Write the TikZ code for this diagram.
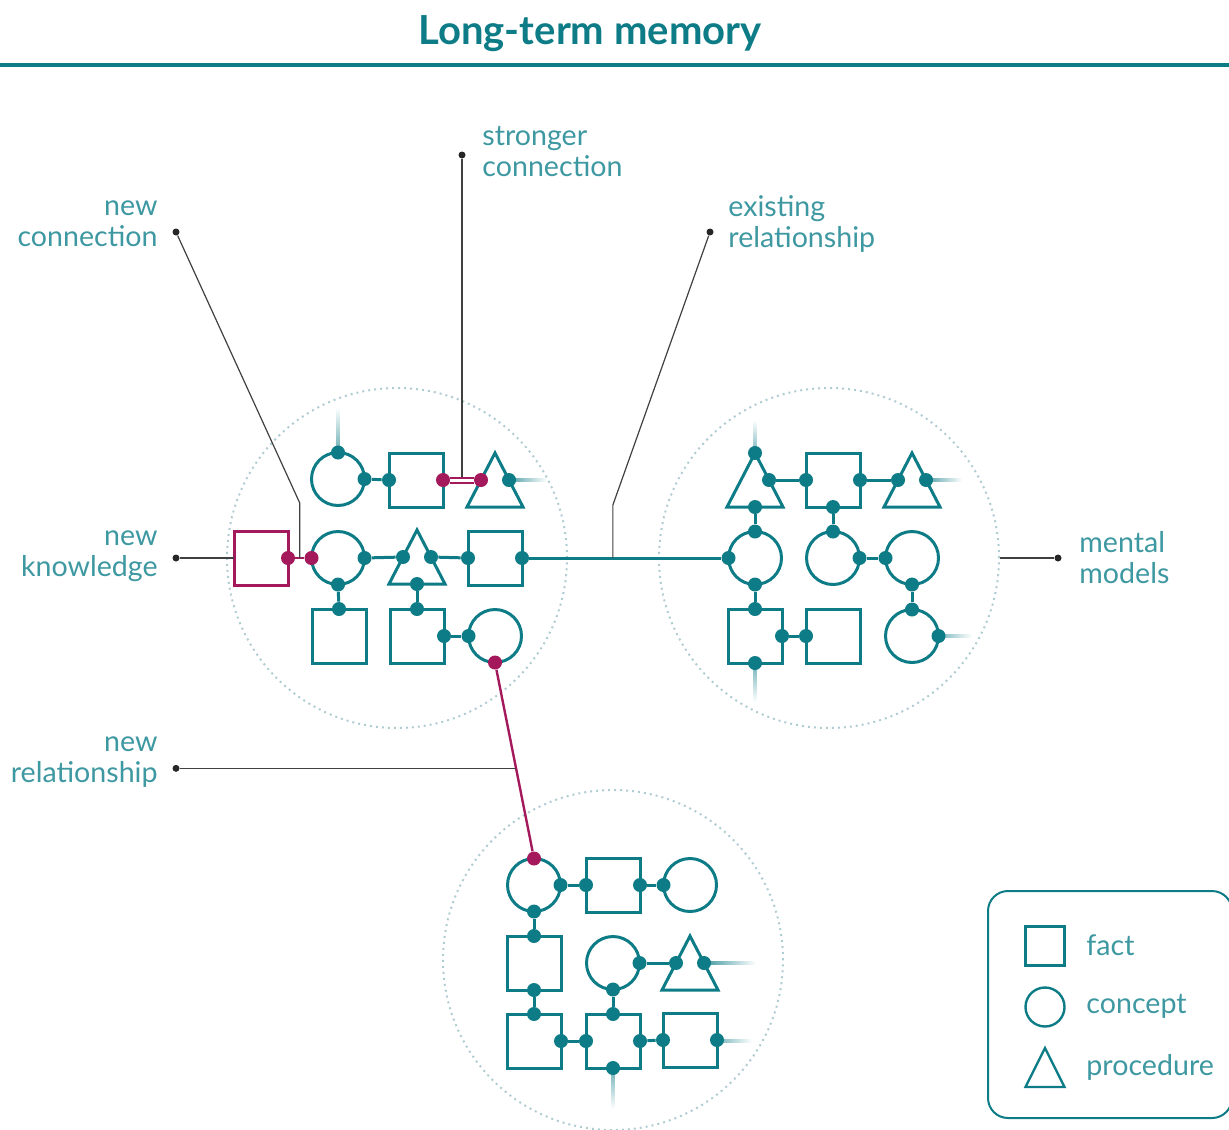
\documentclass[tikz,border=0pt]{standalone}
\usepackage{fontspec}
\setmainfont{Lato}
\usetikzlibrary{shapes.geometric,calc}
\definecolor{memteal}{HTML}{0D7C86}
\definecolor{memmag}{HTML}{A3195B}
\definecolor{memtext}{HTML}{3E98A1}
\definecolor{memgrid}{HTML}{B0CCD3}
\definecolor{memlead}{HTML}{404040}
\begin{document}
\begin{tikzpicture}[x=0.5pt,y=-0.5pt,
  fact/.style={rectangle,draw=memteal,line width=1.5pt,minimum size=27pt,inner sep=0pt,outer sep=0pt},
  concept/.style={circle,draw=memteal,line width=1.5pt,minimum size=26.5pt,inner sep=0pt,outer sep=0pt},
  proc/.style={isosceles triangle,isosceles triangle stretches,shape border rotate=90,draw=memteal,line width=1.5pt,minimum width=28pt,minimum height=27pt,inner sep=0pt,outer sep=0pt},
  legendshape/.style={line width=1.2pt,minimum size=19.5pt},
  joint/.style={circle,fill=memteal,minimum size=7pt,inner sep=0pt},
  mjoint/.style={joint,fill=memmag},
  link/.style={draw=memteal,line width=1.5pt},
  mlink/.style={draw=memmag,line width=1.2pt},
  hstub/.style={left color=memteal,right color=white},
  vstub/.style={bottom color=memteal,top color=white},
  cluster/.style={circle,draw=memgrid,dotted,line width=1pt,minimum size=170pt,inner sep=0pt},
  leader/.style={draw=memlead,line width=0.6pt},
  ldot/.style={circle,fill=black!85,minimum size=3.5pt,inner sep=0pt},
  note/.style={text=memtext,font=\fontsize{14.3}{15.5}\selectfont,inner sep=0pt}]
\useasboundingbox (0,0) rectangle (1229,1129);

% title
\node[text=memteal,font=\fontsize{20}{24}\selectfont\bfseries] (title) at (590,34) {Long-term memory};
\draw[memteal,line width=2pt] (0,65) -- (1229,65);

% clusters
\node[cluster] (aclu) at (397,558) {};
\node[cluster] (bclu) at (829,558) {};
\node[cluster] (cclu) at (613,960) {};

% loose ends
\shade[vstub] ([xshift=-0.75pt]338,479) rectangle ++(3,-72);
\shade[hstub] ([yshift=0.75pt]495,480) rectangle ++(52,3);
\shade[vstub] ([xshift=-0.75pt]755,480) rectangle ++(3,-60);
\shade[hstub] ([yshift=0.75pt]912,480) rectangle ++(50,3);
\shade[bottom color=white,top color=memteal] ([xshift=-0.75pt]755,636) rectangle ++(3,66);
\shade[hstub] ([yshift=0.75pt]912,636) rectangle ++(60,3);
\shade[hstub] ([yshift=0.75pt]690,963) rectangle ++(66,3);
\shade[bottom color=white,top color=memteal] ([xshift=-0.75pt]613,1041) rectangle ++(3,68);
\shade[hstub] ([yshift=0.75pt]690,1041) rectangle ++(62,3);

% left cluster
\node[concept,fill=white] (ac1) at (338,479) {};
\node[fact] (af1) at (416,480) {};
\node[proc,fill=white,anchor=lower side] (ap1) at (495,507) {};
\node[fact,draw=memmag] (nk) at (261,558) {};
\node[concept] (ac2) at (338,558) {};
\node[proc,anchor=lower side] (ap2) at (417,584) {};
\node[fact] (af2) at (495,558) {};
\node[fact] (af3) at (339,636) {};
\node[fact] (af4) at (417,636) {};
\node[concept] (ac3) at (495,636) {};

\node[joint] (ac1n) at (ac1.north) {};
\node[joint] (ac1e) at (ac1.east) {};
\node[joint] (af1w) at (af1.west) {};
\node[mjoint] (af1e) at (af1.east) {};
\node[mjoint] (ap1l) at (ap1.left side) {};
\node[joint] (ap1r) at (ap1.right side) {};
\node[mjoint] (nke) at (nk.east) {};
\node[mjoint] (ac2w) at (ac2.west) {};
\node[joint] (ac2e) at (ac2.east) {};
\node[joint] (ac2s) at (ac2.south) {};
\node[joint] (ap2l) at (ap2.left side) {};
\node[joint] (ap2r) at (ap2.right side) {};
\node[joint] (ap2b) at (ap2.lower side) {};
\node[joint] (af2w) at (af2.west) {};
\node[joint] (af2e) at (af2.east) {};
\node[joint] (af3n) at (af3.north) {};
\node[joint] (af4n) at (af4.north) {};
\node[joint] (af4e) at (af4.east) {};
\node[joint] (ac3w) at (ac3.west) {};
\node[mjoint] (ac3s) at (ac3.south) {};

% right cluster
\node[proc,fill=white,anchor=lower side] (bp1) at (755,507) {};
\node[fact] (bf1) at (833,480) {};
\node[proc,fill=white,anchor=lower side] (bp2) at (912,507) {};
\node[concept] (bc1) at (755,558) {};
\node[concept] (bc2) at (833,558) {};
\node[concept] (bc3) at (912,558) {};
\node[fact,fill=white] (bf2) at (755,636) {};
\node[fact] (bf3) at (833,636) {};
\node[concept,fill=white] (bc4) at (912,636) {};

\node[joint] (bp1a) at (bp1.apex) {};
\node[joint] (bp1r) at (bp1.right side) {};
\node[joint] (bp1b) at (bp1.lower side) {};
\node[joint] (bf1w) at (bf1.west) {};
\node[joint] (bf1e) at (bf1.east) {};
\node[joint] (bf1s) at (bf1.south) {};
\node[joint] (bp2l) at (bp2.left side) {};
\node[joint] (bp2r) at (bp2.right side) {};
\node[joint] (bc1n) at (bc1.north) {};
\node[joint] (bc1w) at (bc1.west) {};
\node[joint] (bc1s) at (bc1.south) {};
\node[joint] (bc2n) at (bc2.north) {};
\node[joint] (bc2e) at (bc2.east) {};
\node[joint] (bc3w) at (bc3.west) {};
\node[joint] (bc3s) at (bc3.south) {};
\node[joint] (bf2n) at (bf2.north) {};
\node[joint] (bf2e) at (bf2.east) {};
\node[joint] (bf2s) at (bf2.south) {};
\node[joint] (bf3w) at (bf3.west) {};
\node[joint] (bc4n) at (bc4.north) {};
\node[joint] (bc4e) at (bc4.east) {};

% bottom cluster
\node[concept] (cc1) at (534,885) {};
\node[fact] (cf1) at (613,885) {};
\node[concept] (cc2) at (690,885) {};
\node[fact] (cf2) at (534,963) {};
\node[concept] (cc3) at (613,963) {};
\node[proc,fill=white,anchor=lower side] (cp1) at (690,990) {};
\node[fact] (cf3) at (534,1041) {};
\node[fact,fill=white] (cf4) at (613,1041) {};
\node[fact,fill=white] (cf5) at (690,1040) {};

\node[mjoint] (cc1n) at (cc1.north) {};
\node[joint] (cc1e) at (cc1.east) {};
\node[joint] (cc1s) at (cc1.south) {};
\node[joint] (cf1w) at (cf1.west) {};
\node[joint] (cf1e) at (cf1.east) {};
\node[joint] (cc2w) at (cc2.west) {};
\node[joint] (cf2n) at (cf2.north) {};
\node[joint] (cf2s) at (cf2.south) {};
\node[joint] (cc3e) at (cc3.east) {};
\node[joint] (cc3s) at (cc3.south) {};
\node[joint] (cp1l) at (cp1.left side) {};
\node[joint] (cp1r) at (cp1.right side) {};
\node[joint] (cf3n) at (cf3.north) {};
\node[joint] (cf3e) at (cf3.east) {};
\node[joint] (cf4n) at (cf4.north) {};
\node[joint] (cf4w) at (cf4.west) {};
\node[joint] (cf4e) at (cf4.east) {};
\node[joint] (cf4s) at (cf4.south) {};
\node[joint] (cf5w) at (cf5.west) {};
\node[joint] (cf5e) at (cf5.east) {};

% links
\draw[link] (ac1e) -- (af1w);
\draw[draw=memmag,line width=1pt,double=white,double distance=1.5pt] (af1e) -- (ap1l);
\draw[mlink] (nke) -- (ac2w);
\draw[link] (ac2e) -- (ap2l);
\draw[link] (ap2r) -- (af2w);
\draw[link] (af2e) -- (bc1w);
\draw[link] (ac2s) -- (af3n);
\draw[link] (ap2b) -- (af4n);
\draw[link] (af4e) -- (ac3w);
\draw[mlink] (ac3s) -- (cc1n);
\draw[link] (bp1r) -- (bf1w);
\draw[link] (bf1e) -- (bp2l);
\draw[link] (bp1b) -- (bc1n);
\draw[link] (bf1s) -- (bc2n);
\draw[link] (bc2e) -- (bc3w);
\draw[link] (bc1s) -- (bf2n);
\draw[link] (bc3s) -- (bc4n);
\draw[link] (bf2e) -- (bf3w);
\draw[link] (cc1e) -- (cf1w);
\draw[link] (cf1e) -- (cc2w);
\draw[link] (cc1s) -- (cf2n);
\draw[link] (cf2s) -- (cf3n);
\draw[link] (cc3e) -- (cp1l);
\draw[link] (cc3s) -- (cf4n);
\draw[link] (cf3e) -- (cf4w);
\draw[link] (cf4e) -- (cf5w);

% callouts
\coordinate (nc) at ($(nke)!0.5!(ac2w)$);
\coordinate (sc) at ($(af1e)!0.5!(ap1l)$);
\coordinate (er) at ($(af2e)!0.44!(bc1w)$);
\coordinate (nr) at ($(ac3s)!0.54!(cc1n)$);
\node[ldot] (ncdot) at (176,232) {};
\node[ldot] (scdot) at (sc |- 0,155) {};
\node[ldot] (erdot) at (710,232) {};
\node[ldot] (nkdot) at (176,558) {};
\node[ldot] (nrdot) at (nr -| 176,0) {};
\node[ldot] (mmdot) at (1058,558) {};
\draw[leader] (ncdot) -- ([yshift=27.5pt]nc) -- (nc);
\draw[leader] (scdot) -- ([yshift=1.6pt]sc);
\draw[leader] (erdot) -- ([yshift=26.5pt]er) -- (er);
\draw[leader] (nkdot) -- (nk);
\draw[leader] (nrdot) -- (nr);
\draw[leader] (bclu) -- (mmdot);

\node[note,align=right,anchor=east] (nctext) at (158,224) {new\\connection};
\node[note,align=left,anchor=west] (sctext) at (482,152) {stronger\\connection};
\node[note,align=left,anchor=west] (ertext) at (728,224) {existing\\relationship};
\node[note,align=right,anchor=east] (nktext) at (158,556) {new\\knowledge};
\node[note,align=right,anchor=east] (nrtext) at (158,762) {new\\relationship};
\node[note,align=left,anchor=west] (mmtext) at (1079,558) {mental\\models};

% legend
\draw[memteal,line width=1pt,rounded corners=10pt] (988,891) rectangle (1232,1118);
\node[fact,legendshape] (kf) at (1045,946) {};
\node[concept,legendshape] (kc) at (1045,1007) {};
\node[proc,legendshape,anchor=lower side] (kp) at (1045,1087) {};
\node[note,anchor=west] (kftext) at (1086,945) {fact};
\node[note,anchor=west] (kctext) at (1086,1006) {concept};
\node[note,anchor=west] (kptext) at (1086,1067) {procedure};
\end{tikzpicture}
\end{document}
